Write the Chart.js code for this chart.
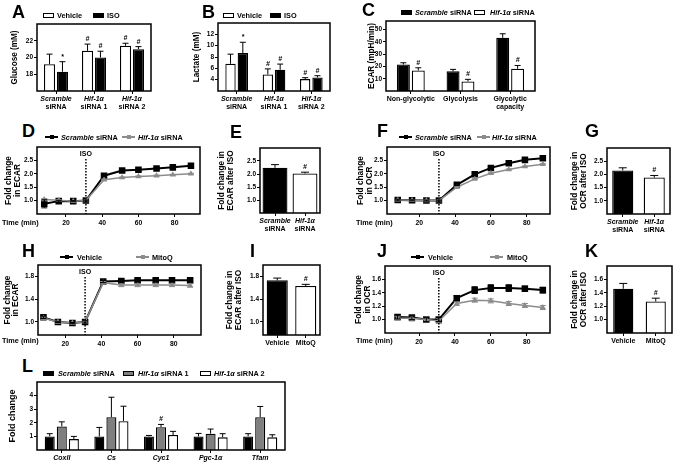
<!DOCTYPE html>
<html>
<head>
<meta charset="utf-8">
<script src="https://cdn.jsdelivr.net/npm/chart.js@4.4.1/dist/chart.umd.min.js"></script>
<style>
  body { margin: 0; background: #fff; width: 675px; height: 464px; position: relative; overflow: hidden;
         font-family: "Liberation Sans", Arial, sans-serif; font-weight: bold; color: #000; }
  canvas { position: absolute; }
  .lt { position: absolute; font-size: 18px; line-height: 18px; }
  .lg { position: absolute; font-size: 7.3px; line-height: 7px; white-space: nowrap; }
  .sw { position: absolute; box-sizing: border-box; border: 1px solid #000; }
</style>
</head>
<body>
<script>
// ---- data ----
// A: glucose
const groupsA = [['Scramble', 'siRNA'], ['Hif-1α', 'siRNA 1'], ['Hif-1α', 'siRNA 2']];
const glucVeh = [19.2, 20.8, 21.4];
const glucVehErr = [1.2, 0.8, 0.3];
const glucVehMarks = ['', '#', '#'];
const glucIso = [18.3, 20.0, 21.0];
const glucIsoErr = [1.2, 0.75, 0.3];
const glucIsoMarks = ['*', '#', '#'];
const glucTicks = [18, 20, 22];

// B: lactate
const lacVeh = [6.8, 4.9, 4.1];
const lacVehErr = [1.7, 1.0, 0.25];
const lacVehMarks = ['', '#', '#'];
const lacIso = [8.7, 5.75, 4.4];
const lacIsoErr = [1.9, 1.0, 0.3];
const lacIsoMarks = ['*', '#', '#'];
const lacTicks = [4, 6, 8, 10, 12];

// C: ECAR components
const ecarCats = [['Non-glycolytic'], ['Glycolysis'], ['Glycolytic', 'capacity']];
const ecarScr = [21.6, 16.0, 43.3];
const ecarScrErr = [1.4, 1.6, 3.3];
const ecarHif = [16.7, 7.8, 18.1];
const ecarHifErr = [2.2, 1.7, 2.7];
const ecarHifMarks = ['#', '#', '#'];
const ecarTicks = [10, 20, 30, 40, 50];

// time course
const timeMin = [8, 16, 24, 31, 41, 51, 60, 70, 79, 89];
const timeTicks = [20, 40, 60, 80];
const isoTime = 31;

// D: ECAR fold, siRNA
const ecarFoldScr = [0.88, 0.98, 0.98, 1.0, 1.93, 2.12, 2.15, 2.2, 2.24, 2.3];
const ecarFoldScrErr = [0.15, 0.03, 0.02, 0.02, 0.03, 0.06, 0.06, 0.03, 0.03, 0.05];
const ecarFoldHif = [1.04, 1.01, 0.98, 1.0, 1.78, 1.86, 1.9, 1.93, 1.96, 2.0];
const ecarFoldHifErr = [0.04, 0.02, 0.02, 0.02, 0.02, 0.02, 0.02, 0.02, 0.02, 0.02];
const foldTicks = [1.0, 1.5, 2.0, 2.5];

// E / G: after ISO, siRNA
const sirnaCats = [['Scramble', 'siRNA'], ['Hif-1α', 'siRNA']];
const ecarAfter = [2.24, 2.02];
const ecarAfterErr = [0.12, 0.05];
const ocrAfter = [2.15, 1.88];
const ocrAfterErr = [0.1, 0.08];
const afterMarks = ['', '#'];

// F: OCR fold, siRNA
const ocrFoldScr = [1.02, 1.01, 1.0, 1.0, 1.59, 1.98, 2.22, 2.39, 2.52, 2.58];
const ocrFoldScrErr = [0.03, 0.02, 0.02, 0.02, 0.03, 0.05, 0.05, 0.05, 0.05, 0.05];
const ocrFoldHif = [1.02, 1.01, 1.0, 1.0, 1.5, 1.81, 2.02, 2.16, 2.27, 2.36];
const ocrFoldHifErr = [0.02, 0.02, 0.02, 0.02, 0.02, 0.02, 0.02, 0.02, 0.02, 0.02];

// H: ECAR fold, MitoQ
const ecarMitoVeh = [1.08, 1.0, 0.98, 1.0, 1.71, 1.72, 1.73, 1.73, 1.73, 1.73];
const ecarMitoVehErr = [0.02, 0.01, 0.01, 0.02, 0.02, 0.03, 0.03, 0.03, 0.03, 0.03];
const ecarMitoQ = [1.07, 1.0, 0.98, 1.0, 1.69, 1.65, 1.65, 1.65, 1.65, 1.64];
const ecarMitoQErr = [0.02, 0.01, 0.01, 0.02, 0.02, 0.03, 0.03, 0.03, 0.03, 0.03];
const ecarMitoTicks = [1.0, 1.4, 1.8];

// I / K: after ISO, MitoQ
const mitoCats = [['Vehicle'], ['MitoQ']];
const ecarMitoAfter = [1.73, 1.63];
const ecarMitoAfterErr = [0.04, 0.03];
const ocrMitoAfter = [1.46, 1.27];
const ocrMitoAfterErr = [0.08, 0.05];

// J: OCR fold, MitoQ
const ocrMitoVeh = [1.04, 1.03, 1.0, 1.0, 1.32, 1.44, 1.47, 1.47, 1.46, 1.44];
const ocrMitoVehErr = [0.03, 0.03, 0.03, 0.03, 0.04, 0.05, 0.05, 0.05, 0.04, 0.04];
const ocrMitoQ = [1.02, 1.02, 1.0, 0.98, 1.24, 1.29, 1.28, 1.24, 1.21, 1.18];
const ocrMitoQErr = [0.03, 0.04, 0.03, 0.04, 0.03, 0.03, 0.03, 0.03, 0.03, 0.03];
const ocrMitoTicks = [1.0, 1.2, 1.4, 1.6];

// L: gene expression
const genes = [['CoxII'], ['Cs'], ['Cyc1'], ['Pgc-1α'], ['Tfam']];
const geneScr = [1.0, 1.0, 1.0, 1.0, 1.0];
const geneScrErr = [0.2, 0.66, 0.07, 0.22, 0.2];
const geneHif1 = [1.73, 2.41, 1.68, 1.2, 2.41];
const geneHif1Err = [0.34, 1.47, 0.2, 0.34, 0.79];
const geneHif1Marks = ['', '', '#', '', ''];
const geneHif2 = [0.8, 2.12, 1.1, 0.93, 0.93];
const geneHif2Err = [0.2, 1.1, 0.27, 0.27, 0.19];
const geneTicks = [1, 2, 3, 4];

// ---- setup ----
const FONT = '"Liberation Sans", Arial, sans-serif';
const GRAY = '#8c8c8c';
Chart.defaults.font.family = FONT;
Chart.defaults.font.weight = 'bold';
Chart.defaults.color = '#000';
Chart.defaults.animation = false;
Chart.defaults.plugins.legend.display = false;
Chart.defaults.plugins.tooltip.enabled = false;

// frame, error bars, marks, ISO line and category labels
const extras = {
    id: 'extras',
    afterDatasetsDraw(chart, args, o) {
        const ctx = chart.ctx;
        const y = chart.scales.y;
        ctx.save();
        chart.data.datasets.forEach((ds, di) => {
            if (!ds.errors) return;
            chart.getDatasetMeta(di).data.forEach((el, i) => {
                const raw = ds.data[i];
                const v = typeof raw === 'object' ? raw.y : raw;
                const top = y.getPixelForValue(v + ds.errors[i]);
                const bot = o.both ? y.getPixelForValue(v - ds.errors[i]) : el.y;
                ctx.strokeStyle = ds.errColor || '#000';
                ctx.lineWidth = 1;
                ctx.beginPath();
                ctx.moveTo(el.x, bot);
                ctx.lineTo(el.x, top);
                ctx.moveTo(el.x - o.cap, top);
                ctx.lineTo(el.x + o.cap, top);
                if (o.both) {
                    ctx.moveTo(el.x - o.cap, bot);
                    ctx.lineTo(el.x + o.cap, bot);
                }
                ctx.stroke();
                if (ds.marks && ds.marks[i]) {
                    ctx.fillStyle = '#000';
                    ctx.font = 'italic bold 7px ' + FONT;
                    ctx.textAlign = 'center';
                    ctx.textBaseline = 'bottom';
                    ctx.fillText(ds.marks[i], el.x, top - 1.5);
                }
            });
        });
        ctx.restore();
    },
    afterDraw(chart, args, o) {
        const ctx = chart.ctx;
        const a = chart.chartArea;
        ctx.save();
        ctx.strokeStyle = '#000';
        ctx.lineWidth = 1.5;
        ctx.strokeRect(a.left, a.top, a.right - a.left, a.bottom - a.top);
        ctx.fillStyle = '#000';
        if (o.iso !== undefined) {
            const px = chart.scales.x.getPixelForValue(o.iso);
            ctx.setLineDash([1.5, 1.5]);
            ctx.beginPath();
            ctx.moveTo(px, a.top + 12);
            ctx.lineTo(px, a.bottom);
            ctx.stroke();
            ctx.setLineDash([]);
            ctx.font = 'bold 7px ' + FONT;
            ctx.textAlign = 'center';
            ctx.textBaseline = 'middle';
            ctx.fillText('ISO', px, a.top + 7);
        }
        if (o.cats) {
            const x = chart.scales.x;
            ctx.textAlign = 'center';
            ctx.textBaseline = 'middle';
            o.cats.forEach((lines, i) => {
                const px = x.getPixelForValue(i);
                lines.forEach((t, j) => {
                    ctx.font = (o.italic[j] ? 'italic ' : '') + 'bold 7px ' + FONT;
                    ctx.fillText(t, px, a.bottom + 8 + j * 8);
                });
            });
        }
        ctx.restore();
    }
};
Chart.register(extras);

function yAxis(min, max, ticks, dec, title, tpad, tsize) {
    return {
        min: min, max: max,
        afterBuildTicks: s => { s.ticks = ticks.map(v => ({ value: v })); },
        ticks: { font: { size: 6.5 }, padding: 1, callback: v => v.toFixed(dec) },
        grid: { drawOnChartArea: false, tickLength: 3, color: '#000', lineWidth: 1 },
        border: { display: false },
        title: { display: true, text: title, font: { size: tsize || 8.3, lineHeight: 1.05 }, padding: { top: tpad, bottom: 0 } }
    };
}
function catAxis() {
    return {
        type: 'category', offset: true,
        ticks: { display: false },
        grid: { offset: false, drawOnChartArea: false, tickLength: 3, color: '#000', lineWidth: 1 },
        border: { display: false }
    };
}
function timeAxis(min, max) {
    return {
        type: 'linear', min: min, max: max,
        afterBuildTicks: s => { s.ticks = timeTicks.map(v => ({ value: v })); },
        ticks: { font: { size: 6.8 }, padding: 2, maxRotation: 0 },
        grid: { drawOnChartArea: false, tickLength: 3, color: '#000', lineWidth: 1 },
        border: { display: false }
    };
}

// frame = [left, top, right, bottom] of the plot box; pad = [left, top, right, bottom] room around it
function panel(frame, pad, config) {
    const c = document.createElement('canvas');
    c.width = frame[2] - frame[0] + pad[0] + pad[2];
    c.height = frame[3] - frame[1] + pad[1] + pad[3];
    c.style.left = (frame[0] - pad[0]) + 'px';
    c.style.top = (frame[1] - pad[1]) + 'px';
    document.body.appendChild(c);
    config.options.responsive = false;
    config.options.devicePixelRatio = 1;
    config.options.layout = { padding: { left: 0, top: pad[1], right: pad[2], bottom: 0 } };
    config.options.scales.y.afterFit = s => { s.width = pad[0]; };
    config.options.scales.x.afterFit = s => { s.height = pad[3]; };
    return new Chart(c, config);
}

function barSet(data, errors, marks, fill, bp, cp) {
    return { data: data, errors: errors, marks: marks, backgroundColor: fill, borderColor: '#000',
             borderWidth: 1.3, barPercentage: bp, categoryPercentage: cp };
}
function lineSet(vals, errors, color, black) {
    return {
        data: timeMin.map((t, i) => ({ x: t, y: vals[i] })),
        errors: errors, errColor: color,
        borderColor: color, backgroundColor: color, borderWidth: black ? 2 : 1.5,
        pointStyle: black ? 'rect' : 'triangle', pointRadius: black ? 3.2 : 2,
        pointBackgroundColor: color, pointBorderColor: color, tension: 0
    };
}
const names = n => n.map(l => l.join(' '));

// A
panel([37, 24, 151, 91], [32, 6, 4, 22], {
    type: 'bar',
    data: { labels: names(groupsA), datasets: [
        barSet(glucVeh, glucVehErr, glucVehMarks, '#fff', 0.86, 0.68),
        barSet(glucIso, glucIsoErr, glucIsoMarks, '#000', 0.86, 0.68)] },
    options: { scales: { x: catAxis(), y: yAxis(16, 24, glucTicks, 0, 'Glucose (mM)', 5.5, 8.2) },
               plugins: { extras: { cap: 3, cats: groupsA, italic: [true, false] } } }
});
// B
panel([218, 23, 330, 91], [28, 6, 4, 22], {
    type: 'bar',
    data: { labels: names(groupsA), datasets: [
        barSet(lacVeh, lacVehErr, lacVehMarks, '#fff', 0.84, 0.66),
        barSet(lacIso, lacIsoErr, lacIsoMarks, '#000', 0.84, 0.66)] },
    options: { scales: { x: catAxis(), y: yAxis(2, 14, lacTicks, 0, 'Lactate (mM)', 2.5, 8.2) },
               plugins: { extras: { cap: 3, cats: groupsA, italic: [true, false] } } }
});
// C
panel([386, 21, 535, 91], [22, 6, 4, 22], {
    type: 'bar',
    data: { labels: names(ecarCats), datasets: [
        barSet(ecarScr, ecarScrErr, null, '#000', 0.87, 0.6),
        barSet(ecarHif, ecarHifErr, ecarHifMarks, '#fff', 0.87, 0.6)] },
    options: { scales: { x: catAxis(), y: yAxis(0, 57, ecarTicks, 0, 'ECAR (mpH/min)', 3.5, 8.2) },
               plugins: { extras: { cap: 3, cats: ecarCats, italic: [false, false] } } }
});
// D
panel([37, 147, 202, 214], [35, 6, 4, 14], {
    type: 'line',
    data: { datasets: [lineSet(ecarFoldHif, ecarFoldHifErr, GRAY, false), lineSet(ecarFoldScr, ecarFoldScrErr, '#000', true)] },
    options: { scales: { x: timeAxis(4, 94), y: yAxis(0.5, 3.0, foldTicks, 1, ['Fold change', 'in ECAR'], 2.5) },
               plugins: { extras: { cap: 3, both: true, iso: isoTime } } }
});
// E
panel([260, 148, 320, 213], [46, 6, 4, 24], {
    type: 'bar',
    data: { labels: names(sirnaCats), datasets: [barSet(ecarAfter, ecarAfterErr, afterMarks, ['#000', '#fff'], 0.83, 1)] },
    options: { scales: { x: catAxis(), y: yAxis(0.5, 3.0, foldTicks, 1, ['Fold change in', 'ECAR after ISO'], 3.3) },
               plugins: { extras: { cap: 4, cats: sirnaCats, italic: [true, false] } } }
});
// F
panel([387, 147, 552, 214], [35, 6, 4, 14], {
    type: 'line',
    data: { datasets: [lineSet(ocrFoldHif, ocrFoldHifErr, GRAY, false), lineSet(ocrFoldScr, ocrFoldScrErr, '#000', true)] },
    options: { scales: { x: timeAxis(2, 93), y: yAxis(0.5, 3.0, foldTicks, 1, ['Fold change', 'in OCR'], 4.3) },
               plugins: { extras: { cap: 3, both: true, iso: isoTime } } }
});
// G
panel([607, 148, 670, 214], [41, 6, 4, 24], {
    type: 'bar',
    data: { labels: names(sirnaCats), datasets: [barSet(ocrAfter, ocrAfterErr, afterMarks, ['#000', '#fff'], 0.67, 1)] },
    options: { scales: { x: catAxis(), y: yAxis(0.5, 3.0, foldTicks, 1, ['Fold change in', 'OCR after ISO'], 4.3) },
               plugins: { extras: { cap: 4, cats: sirnaCats, italic: [true, false] } } }
});
// H
panel([38, 265, 203, 335], [36, 6, 4, 14], {
    type: 'line',
    data: { datasets: [lineSet(ecarMitoQ, ecarMitoQErr, GRAY, false), lineSet(ecarMitoVeh, ecarMitoVehErr, '#000', true)] },
    options: { scales: { x: timeAxis(5, 95), y: yAxis(0.77, 2.0, ecarMitoTicks, 1, ['Fold change', 'in ECAR'], 1) },
               plugins: { extras: { cap: 3, both: true, iso: isoTime } } }
});
// I
panel([263, 265, 320, 335], [41, 6, 4, 14], {
    type: 'bar',
    data: { labels: names(mitoCats), datasets: [barSet(ecarMitoAfter, ecarMitoAfterErr, afterMarks, ['#000', '#fff'], 0.74, 1)] },
    options: { scales: { x: catAxis(), y: yAxis(0.77, 2.0, ecarMitoTicks, 1, ['Fold change in', 'ECAR after ISO'], 3.3) },
               plugins: { extras: { cap: 4, cats: mitoCats, italic: [false] } } }
});
// J
panel([385, 266, 552, 333], [35, 6, 4, 14], {
    type: 'line',
    data: { datasets: [lineSet(ocrMitoQ, ocrMitoQErr, GRAY, false), lineSet(ocrMitoVeh, ocrMitoVehErr, '#000', true)] },
    options: { scales: { x: timeAxis(1, 93), y: yAxis(0.8, 1.8, ocrMitoTicks, 1, ['Fold change', 'in OCR'], 4.3) },
               plugins: { extras: { cap: 3, both: true, iso: isoTime } } }
});
// K
panel([607, 266, 672, 333], [41, 6, 3, 14], {
    type: 'bar',
    data: { labels: names(mitoCats), datasets: [barSet(ocrMitoAfter, ocrMitoAfterErr, afterMarks, ['#000', '#fff'], 0.62, 1)] },
    options: { scales: { x: catAxis(), y: yAxis(0.8, 1.8, ocrMitoTicks, 1, ['Fold change in', 'OCR after ISO'], 4.3) },
               plugins: { extras: { cap: 4, cats: mitoCats, italic: [false] } } }
});
// L
panel([37, 382, 285, 450], [33, 6, 4, 14], {
    type: 'bar',
    data: { labels: names(genes), datasets: [
        barSet(geneScr, geneScrErr, null, '#000', 0.83, 0.73),
        barSet(geneHif1, geneHif1Err, geneHif1Marks, '#7f7f7f', 0.83, 0.73),
        barSet(geneHif2, geneHif2Err, null, '#fff', 0.83, 0.73)] },
    options: { scales: { x: catAxis(), y: yAxis(0, 5, geneTicks, 0, 'Fold change', 4, 9) },
               plugins: { extras: { cap: 3, cats: genes, italic: [true] } } }
});

// ---- letters, legends, time labels ----
function el(cls, x, y, html, css) {
    const d = document.createElement('div');
    d.className = cls;
    d.style.left = x + 'px';
    d.style.top = y + 'px';
    if (html) d.innerHTML = html;
    if (css) Object.assign(d.style, css);
    document.body.appendChild(d);
    return d;
}
function box(x, y, fill) { el('sw', x, y - 2.5, '', { width: '11px', height: '5px', background: fill }); }
function key(x, y, color) {
    el('sw', x, y - 1, '', { width: '13px', height: '2px', border: 'none', background: color });
    el('sw', x + 4.5, y - 2, '', { width: '4px', height: '4px', border: 'none', background: color });
}
function text(x, y, html) { el('lg', x, y - 3.5, html); }

[['A', 12, 3], ['B', 202, 3], ['C', 362, 1], ['D', 22, 122], ['E', 230, 123], ['F', 377, 122], ['G', 585, 122],
 ['H', 22, 242], ['I', 250, 242], ['J', 377, 242], ['K', 585, 242], ['L', 22, 357]]
    .forEach(l => el('lt', l[1], l[2], l[0]));

box(43, 15, '#fff'); text(57, 15, 'Vehicle'); box(93, 15, '#000'); text(107, 15, 'ISO');
box(223, 15, '#fff'); text(237, 15, 'Vehicle'); box(270, 15, '#000'); text(284, 15, 'ISO');
box(401, 12, '#000'); text(415, 12, '<i>Scramble</i> siRNA'); box(474, 12, '#fff'); text(490, 12, '<i>Hif-1α</i> siRNA');
key(45, 137, '#000'); text(61, 137, '<i>Scramble</i> siRNA'); key(122, 137, GRAY); text(138, 137, '<i>Hif-1α</i> siRNA');
key(399, 137, '#000'); text(415, 137, '<i>Scramble</i> siRNA'); key(477, 137, GRAY); text(492, 137, '<i>Hif-1α</i> siRNA');
key(60, 257, '#000'); text(77, 257, 'Vehicle'); key(136, 257, GRAY); text(152, 257, 'MitoQ');
key(411, 257, '#000'); text(428, 257, 'Vehicle'); key(490, 257, GRAY); text(507, 257, 'MitoQ');
box(43, 373, '#000'); text(58, 373, '<i>Scramble</i> siRNA'); box(123, 373, '#7f7f7f'); text(138, 373, '<i>Hif-1α</i> siRNA 1');
box(200, 373, '#fff'); text(214, 373, '<i>Hif-1α</i> siRNA 2');

text(2, 222, 'Time (min)'); text(356, 222, 'Time (min)');
text(2, 340, 'Time (min)'); text(356, 340, 'Time (min)');
</script>
</body>
</html>
